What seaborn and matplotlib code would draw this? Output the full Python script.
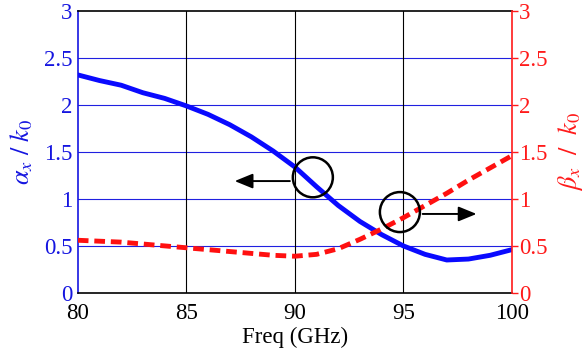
import matplotlib
matplotlib.use("Agg")
import matplotlib.pyplot as plt
from matplotlib.patches import Ellipse
import seaborn as sns
import numpy as np
import pandas as pd

freq = [80, 81, 82, 83, 84, 85, 86, 87, 88, 89, 90, 91, 92, 93, 94, 95, 96, 97, 98, 99, 100]
alpha_k0 = [2.32, 2.26, 2.21, 2.13, 2.07, 1.99, 1.90, 1.79, 1.66, 1.51, 1.34, 1.13, 0.93, 0.76, 0.62, 0.50, 0.41, 0.35, 0.36, 0.40, 0.46]
beta_k0 = [0.56, 0.55, 0.54, 0.52, 0.50, 0.48, 0.46, 0.44, 0.42, 0.40, 0.39, 0.41, 0.47, 0.57, 0.68, 0.80, 0.93, 1.06, 1.20, 1.33, 1.46]
yticks = [0, 0.5, 1, 1.5, 2, 2.5, 3]
ytick_labels = ["0", "0.5", "1", "1.5", "2", "2.5", "3"]
xticks = [80, 85, 90, 95, 100]

df = pd.DataFrame({"freq": freq, "alpha": alpha_k0, "beta": beta_k0})

sns.set_style("white")
plt.rcParams["font.family"] = ["Liberation Serif", "DejaVu Serif"]
plt.rcParams["mathtext.fontset"] = "stix"

fig, ax = plt.subplots(figsize=(5.85, 3.55), dpi=100)
fig.subplots_adjust(left=0.133, right=0.875, top=0.969, bottom=0.175)
ax2 = ax.twinx()

sns.lineplot(data=df, x="freq", y="alpha", ax=ax, color="#0a0aff", linewidth=3.5, zorder=3)
sns.lineplot(data=df, x="freq", y="beta", ax=ax2, color="#ff1010", linewidth=3.5, linestyle=(0, (2.2, 1.2)), zorder=3)

for a in (ax, ax2):
    a.set_xlim(80, 100)
    a.set_ylim(0, 3)
    a.set_yticks(yticks)
    a.set_yticklabels(ytick_labels)
ax.set_xticks(xticks)

# grid: blue horizontal, black vertical
for y in yticks[1:-1]:
    ax.axhline(y, color="#2020e0", linewidth=0.8, zorder=1)
for x in xticks[1:-1]:
    ax.axvline(x, color="black", linewidth=0.8, zorder=1)

ax.tick_params(axis="x", labelsize=16.5, colors="black", direction="in", length=0, pad=7)
ax.tick_params(axis="y", labelsize=16.5, colors="#1515e0", direction="in", length=0, pad=4)
ax2.tick_params(axis="y", labelsize=16.5, colors="#ff1a1a", direction="out", length=4, width=1, pad=1)

ax.spines["left"].set_color("#1515e0")
ax.spines["left"].set_linewidth(1.2)
ax2.spines["left"].set_visible(False)
ax2.spines["right"].set_color("#ff1a1a")
ax2.spines["right"].set_linewidth(1.2)
for s in ("top", "bottom"):
    ax.spines[s].set_color("black")
    ax.spines[s].set_linewidth(1.2)
    ax2.spines[s].set_visible(False)
ax.spines["right"].set_visible(False)

ax.set_xlabel("Freq (GHz)", fontsize=16.5, color="black", labelpad=2)
ax.set_ylabel(r"$\alpha_x\ /\ k_0$", fontsize=19, color="#1515e0", labelpad=6)
ax2.set_ylabel(r"$\beta_x\ \ /\ \ k_0$", fontsize=19, color="#ff1a1a", labelpad=6)

# circles with arrows
arrow = dict(arrowstyle="-|>,head_length=1.1,head_width=0.45", color="black", lw=1.4)
ax.add_patch(Ellipse((90.83, 1.23), 40 / 21.7, 40 / 94, fill=False, edgecolor="black", linewidth=1.8, zorder=5))
ax.annotate("", xy=(87.1, 1.19), xytext=(89.9, 1.19), arrowprops=arrow, zorder=5)
ax2.add_patch(Ellipse((94.84, 0.86), 40 / 21.7, 40 / 94, fill=False, edgecolor="black", linewidth=1.8, zorder=5))
ax2.annotate("", xy=(98.5, 0.84), xytext=(95.76, 0.84), arrowprops=arrow, zorder=5)

fig.savefig("out.png", dpi=100)
